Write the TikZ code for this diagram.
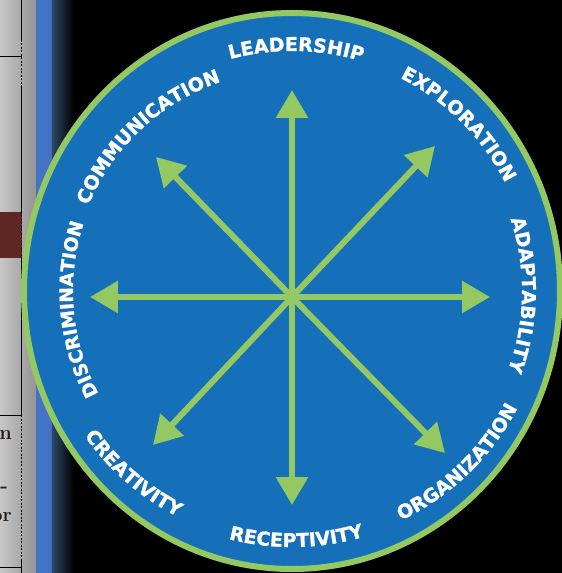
\documentclass[tikz,border=0pt]{standalone}
\usepackage{fontspec}
\usetikzlibrary{arrows.meta,decorations.text}
\newfontfamily\wheelfamily{DejaVu Sans}[BoldFeatures={FakeBold=1.3}]
\definecolor{WheelBlue}{RGB}{21,112,185}
\definecolor{WheelGreen}{RGB}{148,200,98}
\definecolor{PanelBrown}{RGB}{95,38,35}
\definecolor{PanelInk}{RGB}{40,30,20}
\definecolor{BarBlue}{RGB}{68,114,196}
\definecolor{BarSlate}{RGB}{45,72,100}
\newcommand{\wheelfont}{\wheelfamily\bfseries\fontsize{19}{19}\selectfont}
\tikzset{
  wheel/rim/.style={draw=WheelGreen, line width=6pt, fill=WheelBlue},
  wheel/arrow/.style={-{Triangle[length=28pt,width=31pt]}, line width=6pt, draw=WheelGreen},
  wheel/label/.style={
    decorate,
    decoration={text along path, text align=center, text color=white, text={#1}}
  },
  panel/rule/.style={draw=black, line width=1pt},
  panel/dashrule/.style={draw=black, line width=1pt, dash pattern=on 2pt off 1.5pt},
  panel/text/.style={font=\bfseries\fontsize{20}{20}\selectfont, text=PanelInk, anchor=east, inner sep=0pt}
}

\begin{document}
\begin{tikzpicture}[x=1pt,y=1pt]
  \useasboundingbox (-292,-276) rectangle (270,297);
  \fill[black] (-292,-276) rectangle (270,297);

  % table edge and side bar on the left
  \shade[left color=black!22, right color=black!42] (-292,-276) rectangle (-256,297);
  \fill[PanelBrown] (-292,39) rectangle (-270,85);
  \draw[panel/rule] (-270,297) -- (-270,257);
  \draw[panel/dashrule] (-270,257) -- (-270,212);
  \draw[panel/rule] (-270,212) -- (-270,85);
  \draw[panel/dashrule] (-270,85) -- (-270,39);
  \draw[panel/rule] (-270,39) -- (-270,-118);
  \draw[panel/dashrule] (-270,-118) -- (-270,-262);
  \draw[panel/rule] (-270,-262) -- (-270,-276);
  \draw[panel/rule] (-292,240) -- (-270,240);
  \draw[panel/rule] (-292,-118) -- (-270,-118);
  \draw[panel/rule] (-292,-270) -- (-270,-270);
  \node[panel/text] (frag1) at (-280,-138) {n};
  \node[panel/text] (frag2) at (-284,-193) {-};
  \node[panel/text] (frag3) at (-280,-220) {or};
  \fill[BarBlue] (-256,-276) rectangle (-240,297);
  \shade[left color=BarSlate, right color=black] (-240,-276) rectangle (-218,297);

  % the wheel
  \draw[wheel/rim] (0,6) ellipse [x radius=268, y radius=278];

  \coordinate (hub) at (0,0);
  \coordinate (lead) at (0,207);
  \coordinate (expl) at (143,151);
  \coordinate (adap) at (198,0);
  \coordinate (orga) at (153,-156);
  \coordinate (rece) at (0,-208);
  \coordinate (crea) at (-139,-148);
  \coordinate (disc) at (-202,0);
  \coordinate (comm) at (-136,140);

  \draw[wheel/arrow] (hub) -- (lead);
  \draw[wheel/arrow] (hub) -- (expl);
  \draw[wheel/arrow] (hub) -- (adap);
  \draw[wheel/arrow] (hub) -- (orga);
  \draw[wheel/arrow] (hub) -- (rece);
  \draw[wheel/arrow] (hub) -- (crea);
  \draw[wheel/arrow] (hub) -- (disc);
  \draw[wheel/arrow] (hub) -- (comm);

  % labels round the rim: top half clockwise, bottom half counter-clockwise
  \begin{scope}[shift={(0,6)}, execute at begin scope=\wheelfont]
    \path[wheel/label=LEADERSHIP] (149:240) arc[start angle=149, end angle=29, radius=240];
    \path[wheel/label=EXPLORATION] (105:239) arc[start angle=105, end angle=-15, radius=239];
    \path[wheel/label=ADAPTABILITY] (59:230) arc[start angle=59, end angle=-61, radius=230];
    \path[wheel/label={|\fontsize{18.5}{18.5}\selectfont|DISCRIMINATION}] (245:219) arc[start angle=245, end angle=125, radius=219];
    \path[wheel/label=COMMUNICATION] (193:221) arc[start angle=193, end angle=73, radius=221];
    \path[wheel/label=ORGANIZATION] (-106:254) arc[start angle=-106, end angle=14, radius=254];
    \path[wheel/label=RECEPTIVITY] (-149:256) arc[start angle=-149, end angle=-29, radius=256];
    \path[wheel/label=CREATIVITY] (169:253) arc[start angle=169, end angle=289, radius=253];
  \end{scope}
\end{tikzpicture}
\end{document}
